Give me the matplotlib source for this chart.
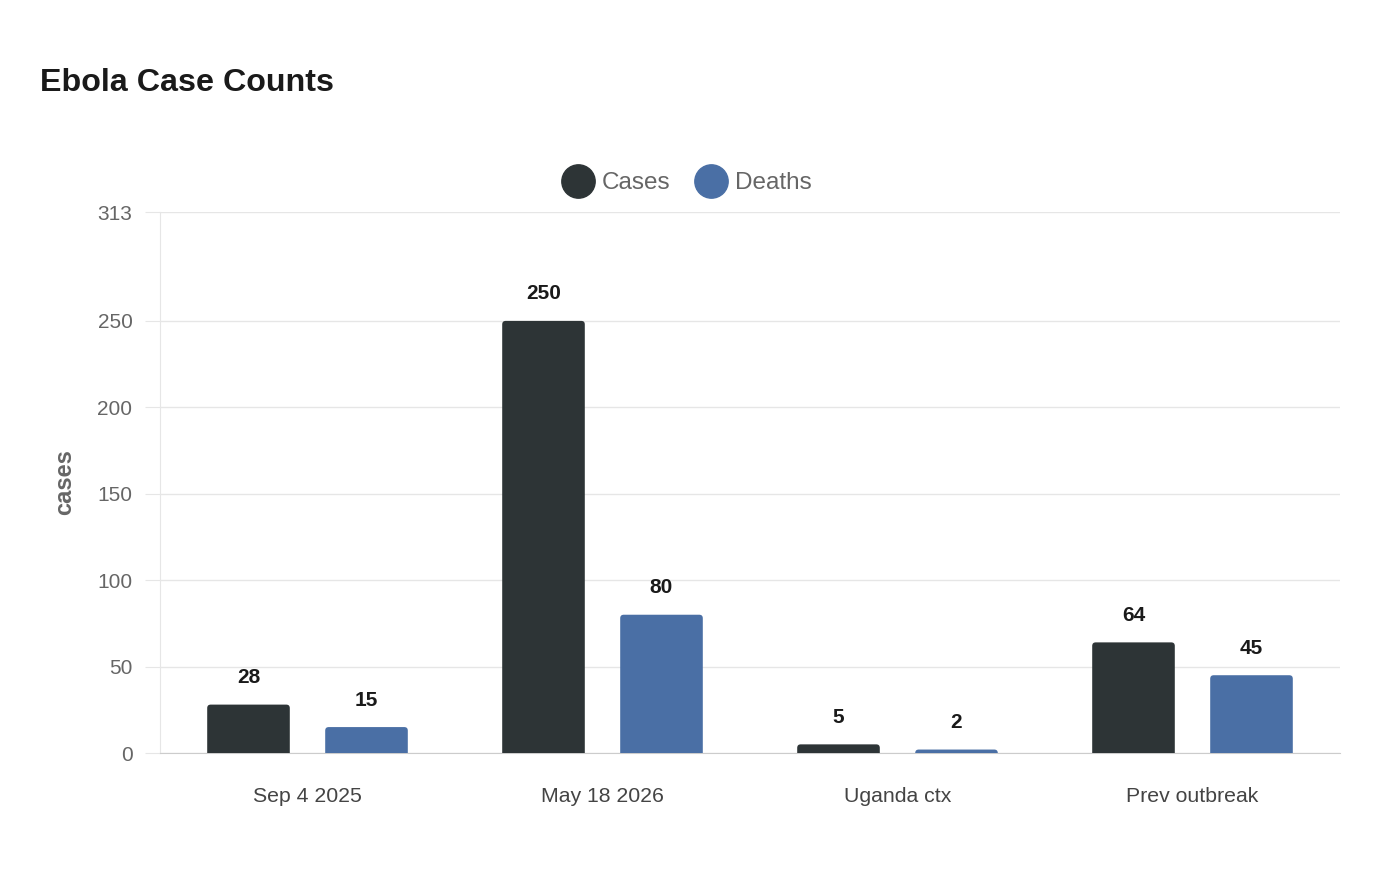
import matplotlib
matplotlib.use("Agg")
import matplotlib.pyplot as plt
from matplotlib.patches import FancyBboxPatch
from matplotlib.lines import Line2D
import numpy as np

plt.rcParams['font.family'] = ['Liberation Sans', 'DejaVu Sans']

# data
categories = ["Sep 4 2025", "May 18 2026", "Uganda ctx", "Prev outbreak"]
cases = [28, 250, 5, 64]
deaths = [15, 80, 2, 45]
y_ticks = [0, 50, 100, 150, 200, 250, 313]

CASES_COLOR = "#2d3436"
DEATHS_COLOR = "#4a6fa5"

W, H = 1400, 880
fig = plt.figure(figsize=(W / 100, H / 100), dpi=100)
ax = fig.add_axes([160 / W, 1 - 753 / H, 1180 / W, 541 / H])

ymax = 313
ax.set_xlim(-0.5, len(categories) - 0.5)
ax.set_ylim(0, ymax)

# pixel <-> data scale for rounded bar tops
x_per_px = len(categories) / 1180
y_per_px = ymax / 541
aspect = y_per_px / x_per_px
r_px = 3.5

def rounded_bar(x, h, width, color):
    # extend below zero so only the top corners look rounded (clipped by axes)
    ext = r_px * y_per_px
    p = FancyBboxPatch((x - width / 2, -ext), width, h + ext,
                       boxstyle=f"round,pad=0,rounding_size={r_px * x_per_px}",
                       mutation_aspect=aspect, facecolor=color, edgecolor="none",
                       zorder=3, clip_on=True)
    ax.add_patch(p)

xs = np.arange(len(categories))
bw = 0.28
off = 0.2
for i in xs:
    rounded_bar(i - off, cases[i], bw, CASES_COLOR)
    rounded_bar(i + off, deaths[i], bw, DEATHS_COLOR)
    for xv, v in ((i - off, cases[i]), (i + off, deaths[i])):
        ax.annotate(str(v), (xv, v), xytext=(0, 27), textcoords="offset pixels",
                    ha="center", va="center", fontsize=15, fontweight="bold",
                    color="#1a1a1a")

# axes styling
ax.set_yticks(y_ticks)
ax.set_yticklabels([str(t) for t in y_ticks])
ax.set_xticks(xs)
ax.set_xticklabels(categories)
ax.grid(axis="y", color="#e6e6e6", linewidth=1, zorder=0)
ax.set_axisbelow(True)
for s in ("top", "right"):
    ax.spines[s].set_visible(False)
ax.spines["left"].set_color("#e6e6e6")
ax.spines["bottom"].set_color("#cccccc")
ax.tick_params(axis="y", length=10.8, color="#e6e6e6", pad=9, labelsize=15,
               labelcolor="#666666")
ax.tick_params(axis="x", length=0, pad=24.5, labelsize=15.3, labelcolor="#444444")

ax.set_ylabel("cases", fontsize=17, fontweight="bold", color="#666666")
ax.yaxis.set_label_coords((76 - 160) / 1180, 0.5)

fig.text(40 / W, 1 - 83 / H, "Ebola Case Counts", fontsize=23.2, fontweight="bold",
         color="#1a1a1a", ha="left", va="center")

handles = [Line2D([], [], marker="o", linestyle="none", markersize=24,
                  markerfacecolor=c, markeredgecolor=c) for c in (CASES_COLOR, DEATHS_COLOR)]
leg = fig.legend(handles, ["Cases", "Deaths"], loc="center", ncol=2,
                 bbox_to_anchor=(687 / W, 1 - 183 / H), frameon=False,
                 fontsize=17.5, handlelength=1.3, handletextpad=0.3,
                 columnspacing=1.05, borderpad=0)
for t in leg.get_texts():
    t.set_color("#666666")

fig.savefig("out.png", dpi=100, facecolor="white")
